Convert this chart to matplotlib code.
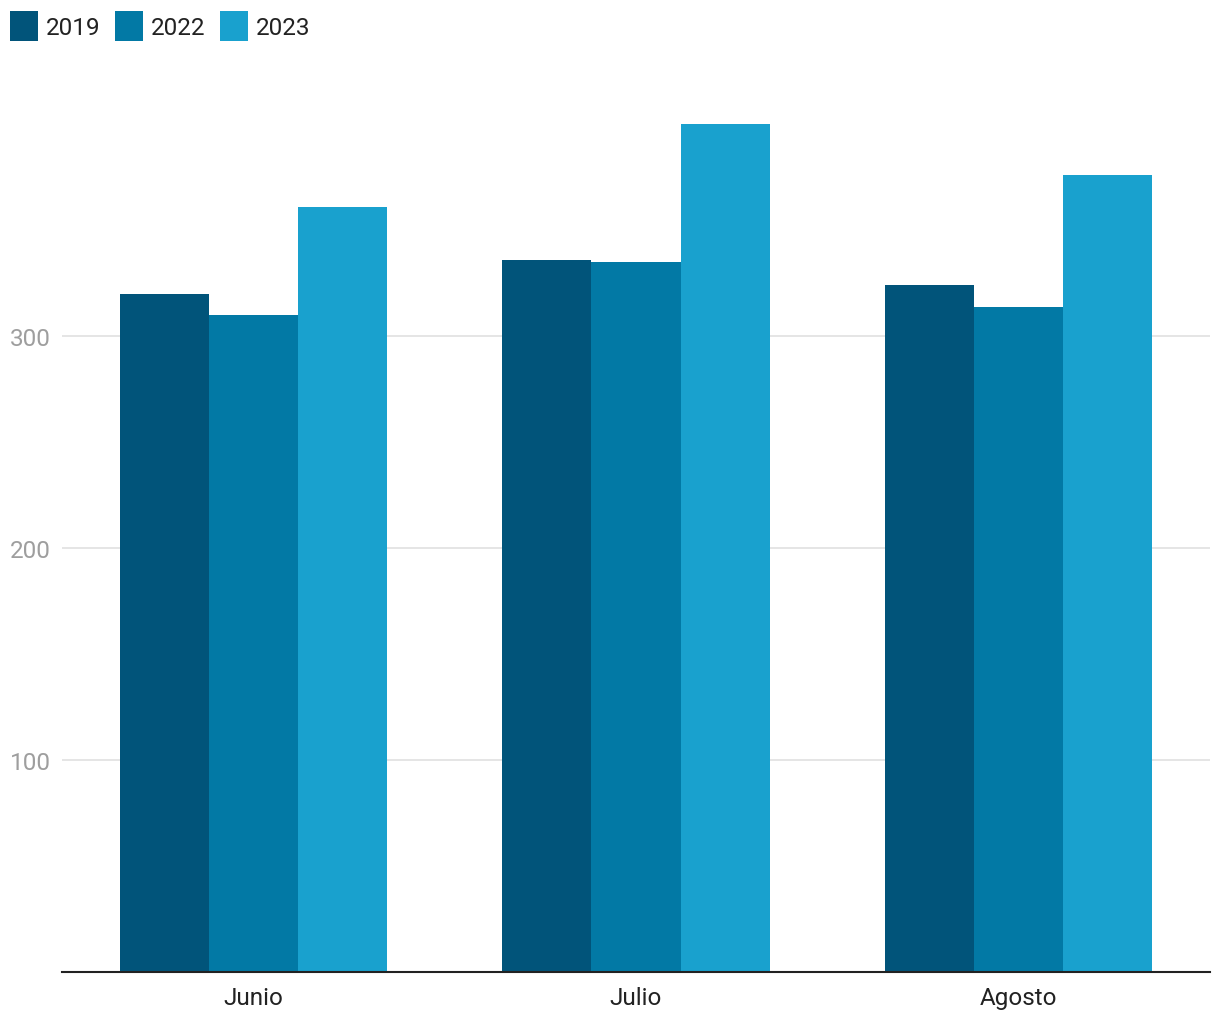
import numpy as np
import matplotlib.pyplot as plt
from matplotlib.patches import Patch

plt.rcParams['font.family'] = ['Roboto', 'DejaVu Sans']

months = ['Junio', 'Julio', 'Agosto']
years = ['2019', '2022', '2023']
v2019 = [320, 336, 324]
v2022 = [310, 335, 314]
v2023 = [361, 400, 376]
colors = ['#01547a', '#0279a5', '#19a1ce']

fig = plt.figure(figsize=(12.2, 10.2), dpi=100)
ax = fig.add_axes([62 / 1220, 47 / 1020, 1148 / 1220, 890 / 1020])

x = np.arange(len(months))
w = 0.233
for i, (vals, c) in enumerate(zip([v2019, v2022, v2023], colors)):
    ax.bar(x + (i - 1) * w, vals, width=w, color=c, zorder=3)

ax.set_xlim(-0.5, 2.5)
ax.set_ylim(0, 420)
ax.set_yticks([100, 200, 300])
ax.set_xticks(x)
ax.set_xticklabels(months, fontsize=17.5, color='#222222')
ax.grid(axis='y', color='#e0e0e0', linewidth=1.2, zorder=0)
for s in ['top', 'right', 'left']:
    ax.spines[s].set_visible(False)
ax.spines['bottom'].set_color('#222222')
ax.spines['bottom'].set_linewidth(1.5)
ax.spines['bottom'].set_zorder(4)
ax.tick_params(axis='x', length=0, pad=10)
ax.tick_params(axis='y', length=0, labelsize=17.5, labelcolor='#9e9e9e', pad=0)
for lbl in ax.get_yticklabels():
    lbl.set_horizontalalignment('left')
    lbl.set_x(-52 / 1148)

handles = [Patch(facecolor=c, label=y) for c, y in zip(colors, years)]
fig.legend(handles=handles, loc='upper left', bbox_to_anchor=(10 / 1220, 1 - 12 / 1020), ncol=3,
           frameon=False, fontsize=17.5, handlelength=1.15, handleheight=1.5,
           handletextpad=0.33, columnspacing=0.6, borderpad=0, borderaxespad=0,
           labelcolor='#222222')

fig.savefig('out.png', dpi=100, facecolor='white')
